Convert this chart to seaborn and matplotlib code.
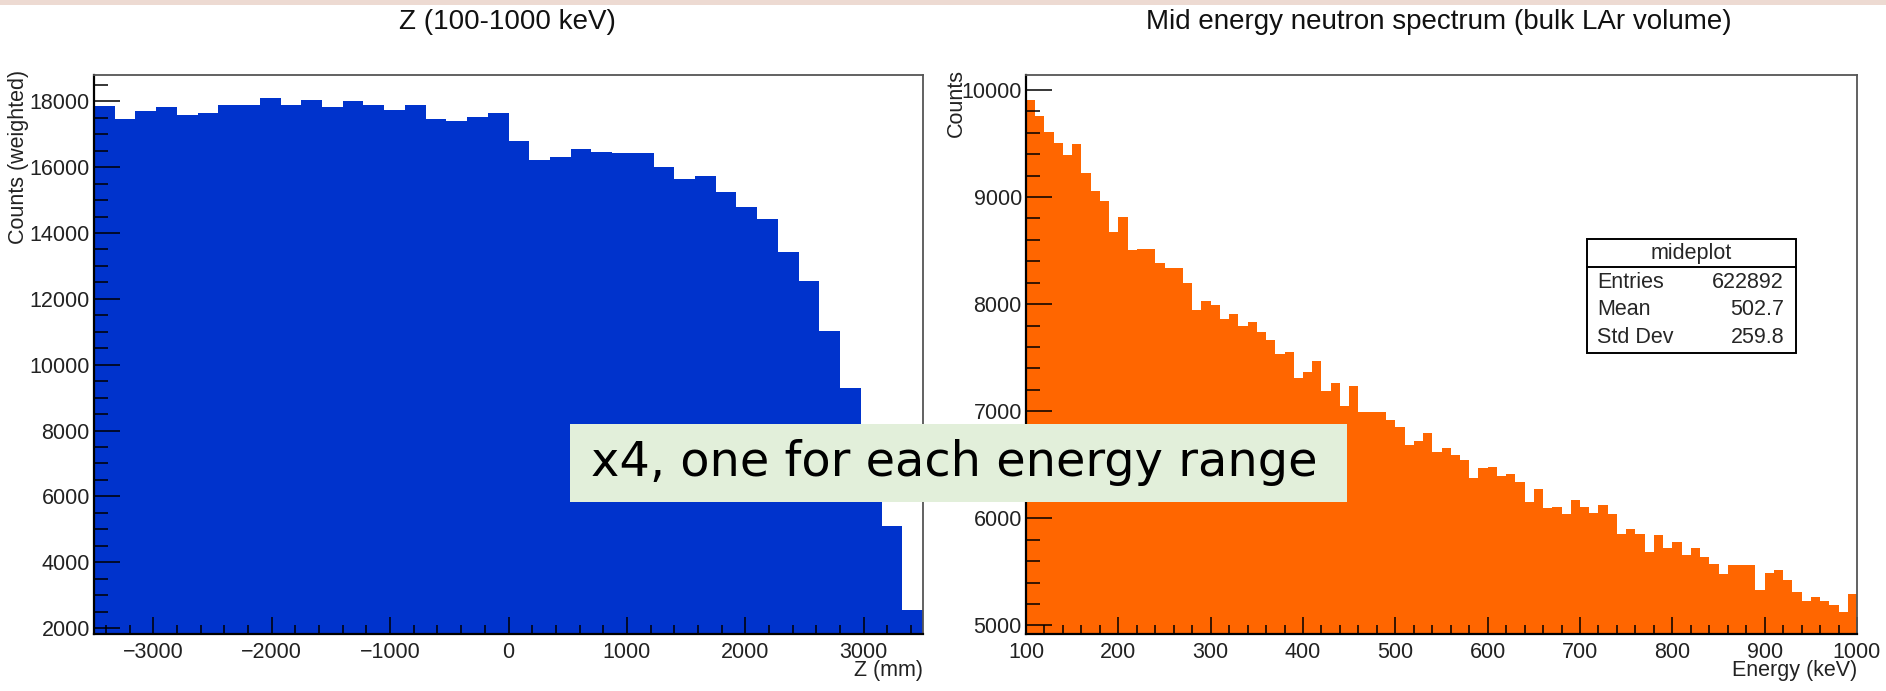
import numpy as np
import pandas as pd
import matplotlib
matplotlib.use("Agg")
import matplotlib.pyplot as plt
from matplotlib.patches import Rectangle
from matplotlib.ticker import MultipleLocator
import seaborn as sns

# ---------------- data ----------------
z_range = (-3500, 3500)
z_binwidth = 175                                  # 40 bins
z_counts = [17870, 17470, 17700, 17830, 17570, 17650, 17880, 17880, 18100, 17880,
            18050, 17830, 18010, 17880, 17740, 17880, 17470, 17390, 17520, 17650,
            16810, 16230, 16320, 16540, 16460, 16420, 16420, 16000, 15650, 15730,
            15240, 14800, 14440, 13420, 12540, 11020, 9290, 7300, 5110, 2560]

e_range = (100, 1000)
e_binwidth = 10                                   # 90 bins
e_counts = [9907, 9757, 9605, 9509, 9393, 9493, 9225, 9061, 8961, 8675,
            8812, 8507, 8513, 8513, 8383, 8336, 8336, 8202, 7941, 8034,
            7988, 7866, 7907, 7795, 7838, 7739, 7670, 7530, 7555, 7310,
            7366, 7471, 7185, 7264, 7047, 7240, 6994, 6994, 6994, 6922,
            6851, 6689, 6726, 6798, 6620, 6655, 6590, 6546, 6378, 6471,
            6477, 6393, 6418, 6337, 6157, 6278, 6098, 6104, 6036, 6170,
            6104, 6048, 6129, 6045, 5852, 5905, 5855, 5687, 5840, 5725,
            5775, 5656, 5725, 5641, 5575, 5476, 5560, 5560, 5560, 5327,
            5491, 5516, 5420, 5311, 5227, 5264, 5227, 5187, 5128, 5296]

stats_title = "mideplot"
stats_names = ["Entries", "Mean", "Std Dev"]
stats_values = ["622892", "502.7", "259.8"]

left_title = "Z (100-1000 keV)"
right_title = "Mid energy neutron spectrum (bulk LAr volume)"
overlay_text = "x4, one for each energy range"

# ---------------- style ----------------
sns.set_style("white")
plt.rcParams["font.family"] = ["Liberation Sans", "DejaVu Sans"]

W, H = 1886, 691
fig = plt.figure(figsize=(W / 100, H / 100), dpi=100)
fig.patch.set_facecolor("white")


def fx(x):
    return x / W


def fy(y):
    return 1 - y / H


def add_ax(x0, x1, y0, y1):
    return fig.add_axes([fx(x0), fy(y1), fx(x1) - fx(x0), fy(y0) - fy(y1)])


axL = add_ax(94, 923, 75, 634)
axR = add_ax(1026, 1857, 75, 634)

nz = len(z_counts)
ne = len(e_counts)
dfz = pd.DataFrame({"z": z_range[0] + z_binwidth * (np.arange(nz) + 0.5), "w": z_counts})
dfe = pd.DataFrame({"e": e_range[0] + e_binwidth * (np.arange(ne) + 0.5), "w": e_counts})

sns.histplot(data=dfz, x="z", weights="w", binwidth=z_binwidth, binrange=z_range,
             element="step", fill=True, color="#0033CC", alpha=1, linewidth=0, ax=axL)
sns.histplot(data=dfe, x="e", weights="w", binwidth=e_binwidth, binrange=e_range,
             element="step", fill=True, color="#FF6600", alpha=1, linewidth=0, ax=axR)

LBL = 15.5
for ax in (axL, axR):
    ax.set_facecolor("white")
    for s in ("top", "right"):
        ax.spines[s].set_color("#555555")
        ax.spines[s].set_linewidth(1.3)
    for s in ("left", "bottom"):
        ax.spines[s].set_color("black")
        ax.spines[s].set_linewidth(1.6)
    for s in ax.spines.values():
        s.set_zorder(5)
    ax.set_axisbelow(False)
    ax.tick_params(which="both", direction="in", top=False, right=False,
                   bottom=True, left=True,
                   color="black", width=1.1, labelsize=LBL, labelcolor="#222222")
    ax.tick_params(axis="y", which="major", length=18.5, pad=3)
    ax.tick_params(axis="y", which="minor", length=10)
    ax.tick_params(axis="x", which="major", length=12.5, pad=6)
    ax.tick_params(axis="x", which="minor", length=6.5)
    ax.grid(False)

axL.xaxis.set_major_locator(MultipleLocator(1000))
axL.xaxis.set_minor_locator(MultipleLocator(200))
axL.yaxis.set_major_locator(MultipleLocator(2000))
axL.yaxis.set_minor_locator(MultipleLocator(500))

axR.xaxis.set_major_locator(MultipleLocator(100))
axR.xaxis.set_minor_locator(MultipleLocator(20))
axR.yaxis.set_major_locator(MultipleLocator(1000))
axR.yaxis.set_minor_locator(MultipleLocator(200))

axL.set_xlim(*z_range)
axL.set_ylim(1820, 18800)
axR.set_xlim(*e_range)
axR.set_ylim(4920, 10140)

for ax in (axL, axR):
    xt = ax.get_xticks()
    ax.set_xticks(xt)
    ax.set_xticklabels([f"{int(v)}" if v >= 0 else f"\u2212{int(-v)}" for v in xt])
    yt = ax.get_yticks()
    ax.set_yticks(yt)
    ax.set_yticklabels([f"{int(v)}" for v in yt])

axL.set_ylim(1820, 18800)
axR.set_ylim(4920, 10140)
axL.set_xlim(*z_range)
axR.set_xlim(*e_range)

axL.set_ylabel("Counts (weighted)", fontsize=LBL, loc="top", color="#222222")
axL.yaxis.set_label_coords(-0.078, 1.01)
axL.set_xlabel("Z (mm)", fontsize=LBL, loc="right", color="#222222")
axL.xaxis.set_label_coords(1.0, -0.046)

axR.set_ylabel("Counts", fontsize=LBL, loc="top", color="#222222")
axR.yaxis.set_label_coords(-0.071, 1.01)
axR.set_xlabel("Energy (keV)", fontsize=LBL, loc="right", color="#222222")
axR.xaxis.set_label_coords(1.0, -0.046)

# titles
fig.text(fx(507), fy(22), left_title, fontsize=20, ha="center", va="center", color="#111111")
fig.text(fx(1439), fy(22), right_title, fontsize=20, ha="center", va="center", color="#111111")

# stats box
fig.patches.append(Rectangle((fx(1587), fy(353)), fx(1796) - fx(1587), fy(239) - fy(353),
                             transform=fig.transFigure, facecolor="white",
                             edgecolor="black", linewidth=1.4, zorder=10))
fig.lines.append(plt.Line2D([fx(1587), fx(1796)], [fy(267), fy(267)],
                            transform=fig.transFigure, color="black", linewidth=1.4, zorder=11))
fig.text(fx(1691), fy(253), stats_title, fontsize=15.5, ha="center", va="center", zorder=12)
for i, (n, v) in enumerate(zip(stats_names, stats_values)):
    yy = 282 + i * 27.5
    fig.text(fx(1597), fy(yy), n, fontsize=15.5, ha="left", va="center", zorder=12)
    fig.text(fx(1784), fy(yy), v, fontsize=15.5, ha="right", va="center", zorder=12)

# overlay label box
fig.patches.append(Rectangle((fx(570), fy(502)), fx(1347) - fx(570), fy(424) - fy(502),
                             transform=fig.transFigure, facecolor="#E2EFDA",
                             edgecolor="none", zorder=20))
fig.text(fx(591), fy(463), overlay_text, fontsize=34.5, family="DejaVu Sans",
         ha="left", va="center", color="black", zorder=21)

# faint top band from slide background
fig.patches.append(Rectangle((0, fy(5)), 1, fy(0) - fy(5), transform=fig.transFigure,
                             facecolor="#EDDAD2", edgecolor="none", zorder=1))

fig.savefig("out.png", dpi=100, facecolor="white")
